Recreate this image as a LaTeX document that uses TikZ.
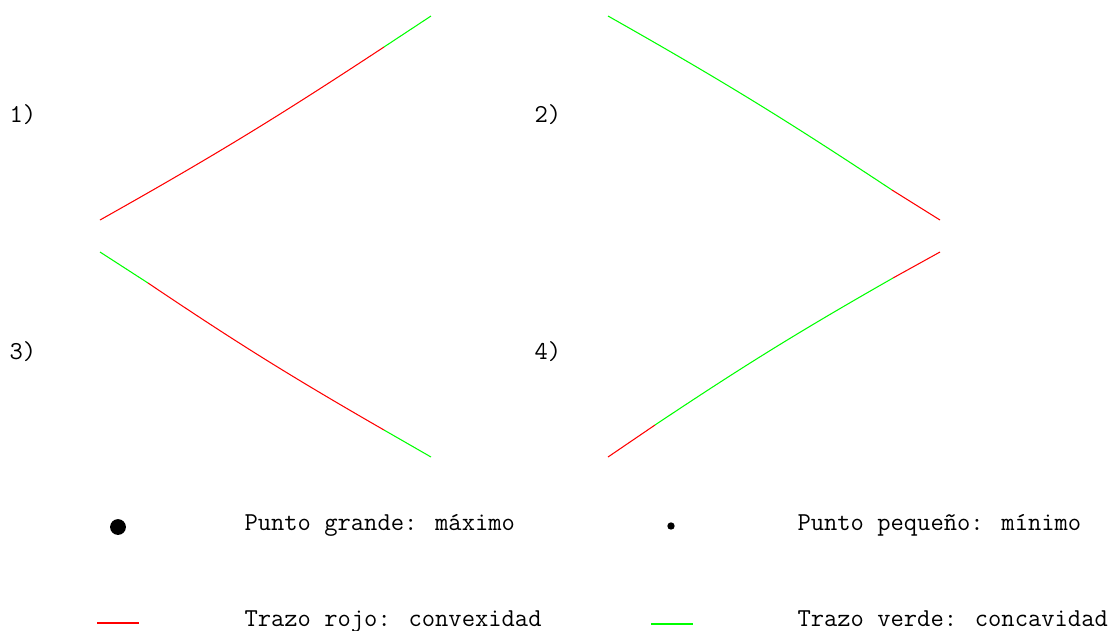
\documentclass[tikz,border=0pt]{standalone}
\usepackage{fontspec}
\usepackage{tikz}

\definecolor{rojo}{RGB}{255,0,0}
\definecolor{verde}{RGB}{0,255,0}

\begin{document}
\begin{tikzpicture}[x=0.02cm, y=-0.02cm, line width=0.6pt,
    convexo/.style={draw=rojo},
    concavo/.style={draw=verde},
    etiqueta/.style={anchor=base west, inner sep=0pt, font=\ttfamily\fontsize{14.7}{17}\selectfont}]
    \useasboundingbox (0,0) rectangle (1113,630);

    % Puntos de cada curva
    \coordinate (a1) at (100,220);  \coordinate (b1) at (384,47);   \coordinate (c1) at (431,16);
    \coordinate (a2) at (608,16);   \coordinate (b2) at (892,190);  \coordinate (c2) at (940,220);
    \coordinate (a3) at (100,252);  \coordinate (b3) at (148,283);  \coordinate (c3) at (384,430);  \coordinate (d3) at (431,457);
    \coordinate (a4) at (608,457);  \coordinate (b4) at (655,425);  \coordinate (c4) at (893,278);  \coordinate (d4) at (940,252);

    % Etiquetas {1), 2), 3), 4)}
    \node [etiqueta] (e1) at (9,122)   {1)};
    \node [etiqueta] (e2) at (534,122) {2)};
    \node [etiqueta] (e3) at (9,359)   {3)};
    \node [etiqueta] (e4) at (534,359) {4)};

    % Trazos
    \path (a1) edge [convexo, bend right=2] (b1);
    \path (b1) edge [concavo]               (c1);
    \path (a2) edge [concavo, bend left=2]  (b2);
    \path (b2) edge [convexo]               (c2);
    \path (a3) edge [concavo]               (b3);
    \path (b3) edge [convexo, bend right=2] (c3);
    \path (c3) edge [concavo]               (d3);
    \path (a4) edge [convexo]               (b4);
    \path (b4) edge [concavo, bend left=2]  (c4);
    \path (c4) edge [convexo]               (d4);

    % Leyenda
    \node [circle, fill=black, inner sep=0pt, minimum size=15\pgflinewidth] (pg) at (118,527) {};
    \node [circle, fill=black, inner sep=0pt, minimum size=7\pgflinewidth]  (pp) at (671,526) {};
    \node [etiqueta] (tpg) at (244,530) {Punto grande: máximo};
    \node [etiqueta] (tpp) at (797,530) {Punto pequeño: mínimo};

    \coordinate (r0) at (97,623);  \coordinate (r1) at (139,623);
    \coordinate (v0) at (651,624); \coordinate (v1) at (693,624);
    \path (r0) edge [convexo] (r1);
    \path (v0) edge [concavo] (v1);
    \node [etiqueta] (tr) at (244,626) {Trazo rojo: convexidad};
    \node [etiqueta] (tv) at (797,626) {Trazo verde: concavidad};
\end{tikzpicture}
\end{document}
